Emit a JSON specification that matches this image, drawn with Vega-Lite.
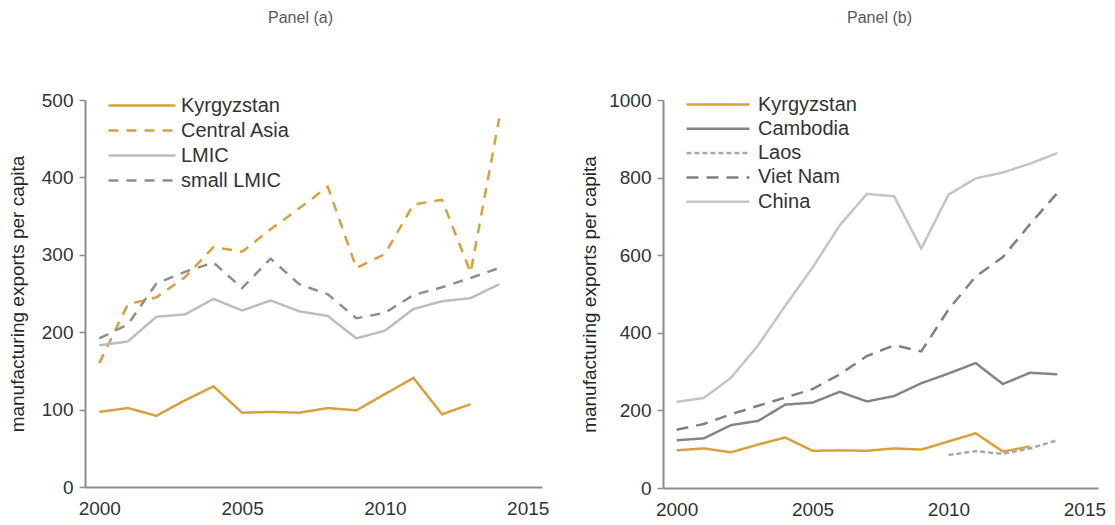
{
  "$schema": "https://vega.github.io/schema/vega-lite/v6.json",
  "background": "white",
  "padding": {"left": 8, "top": 10, "right": 5, "bottom": 5},
  "spacing": 31,
  "config": {
    "view": {"stroke": null},
    "font": "Liberation Sans",
    "axis": {
      "grid": false,
      "domainColor": "#8C8C8C",
      "domainWidth": 2,
      "tickColor": "#8C8C8C",
      "tickWidth": 1.5,
      "tickSize": 6,
      "labelColor": "#333333",
      "labelFontSize": 19,
      "labelFont": "Liberation Sans",
      "titleFont": "Liberation Sans",
      "titleFontSize": 19,
      "titleFontWeight": "normal",
      "titleColor": "#262626"
    },
    "title": {"font": "Liberation Sans", "fontSize": 16, "fontWeight": "normal", "color": "#595959", "anchor": "middle"}
  },
  "datasets": {
    "a": [
      {"year": 2000, "series": "Kyrgyzstan", "value": 97},
      {"year": 2001, "series": "Kyrgyzstan", "value": 102},
      {"year": 2002, "series": "Kyrgyzstan", "value": 92},
      {"year": 2003, "series": "Kyrgyzstan", "value": 112},
      {"year": 2004, "series": "Kyrgyzstan", "value": 130},
      {"year": 2005, "series": "Kyrgyzstan", "value": 96},
      {"year": 2006, "series": "Kyrgyzstan", "value": 97},
      {"year": 2007, "series": "Kyrgyzstan", "value": 96},
      {"year": 2008, "series": "Kyrgyzstan", "value": 102},
      {"year": 2009, "series": "Kyrgyzstan", "value": 99},
      {"year": 2010, "series": "Kyrgyzstan", "value": 120},
      {"year": 2011, "series": "Kyrgyzstan", "value": 141},
      {"year": 2012, "series": "Kyrgyzstan", "value": 94},
      {"year": 2013, "series": "Kyrgyzstan", "value": 107},
      {"year": 2000, "series": "Central Asia", "value": 160},
      {"year": 2001, "series": "Central Asia", "value": 236},
      {"year": 2002, "series": "Central Asia", "value": 245},
      {"year": 2003, "series": "Central Asia", "value": 271},
      {"year": 2004, "series": "Central Asia", "value": 310},
      {"year": 2005, "series": "Central Asia", "value": 304},
      {"year": 2006, "series": "Central Asia", "value": 333},
      {"year": 2007, "series": "Central Asia", "value": 360},
      {"year": 2008, "series": "Central Asia", "value": 388},
      {"year": 2009, "series": "Central Asia", "value": 283},
      {"year": 2010, "series": "Central Asia", "value": 301},
      {"year": 2011, "series": "Central Asia", "value": 365},
      {"year": 2012, "series": "Central Asia", "value": 371},
      {"year": 2013, "series": "Central Asia", "value": 277},
      {"year": 2014, "series": "Central Asia", "value": 476},
      {"year": 2000, "series": "LMIC", "value": 183},
      {"year": 2001, "series": "LMIC", "value": 188},
      {"year": 2002, "series": "LMIC", "value": 220},
      {"year": 2003, "series": "LMIC", "value": 223},
      {"year": 2004, "series": "LMIC", "value": 243},
      {"year": 2005, "series": "LMIC", "value": 228},
      {"year": 2006, "series": "LMIC", "value": 241},
      {"year": 2007, "series": "LMIC", "value": 227},
      {"year": 2008, "series": "LMIC", "value": 221},
      {"year": 2009, "series": "LMIC", "value": 192},
      {"year": 2010, "series": "LMIC", "value": 202},
      {"year": 2011, "series": "LMIC", "value": 230},
      {"year": 2012, "series": "LMIC", "value": 240},
      {"year": 2013, "series": "LMIC", "value": 244},
      {"year": 2014, "series": "LMIC", "value": 262},
      {"year": 2000, "series": "small LMIC", "value": 192},
      {"year": 2001, "series": "small LMIC", "value": 210},
      {"year": 2002, "series": "small LMIC", "value": 263},
      {"year": 2003, "series": "small LMIC", "value": 278},
      {"year": 2004, "series": "small LMIC", "value": 290},
      {"year": 2005, "series": "small LMIC", "value": 257},
      {"year": 2006, "series": "small LMIC", "value": 295},
      {"year": 2007, "series": "small LMIC", "value": 262},
      {"year": 2008, "series": "small LMIC", "value": 249},
      {"year": 2009, "series": "small LMIC", "value": 218},
      {"year": 2010, "series": "small LMIC", "value": 225},
      {"year": 2011, "series": "small LMIC", "value": 248},
      {"year": 2012, "series": "small LMIC", "value": 258},
      {"year": 2013, "series": "small LMIC", "value": 270},
      {"year": 2014, "series": "small LMIC", "value": 283}
    ],
    "b": [
      {"year": 2000, "series": "Kyrgyzstan", "value": 97},
      {"year": 2001, "series": "Kyrgyzstan", "value": 102},
      {"year": 2002, "series": "Kyrgyzstan", "value": 92},
      {"year": 2003, "series": "Kyrgyzstan", "value": 112},
      {"year": 2004, "series": "Kyrgyzstan", "value": 130},
      {"year": 2005, "series": "Kyrgyzstan", "value": 96},
      {"year": 2006, "series": "Kyrgyzstan", "value": 97},
      {"year": 2007, "series": "Kyrgyzstan", "value": 96},
      {"year": 2008, "series": "Kyrgyzstan", "value": 102},
      {"year": 2009, "series": "Kyrgyzstan", "value": 99},
      {"year": 2010, "series": "Kyrgyzstan", "value": 120},
      {"year": 2011, "series": "Kyrgyzstan", "value": 141},
      {"year": 2012, "series": "Kyrgyzstan", "value": 94},
      {"year": 2013, "series": "Kyrgyzstan", "value": 107},
      {"year": 2000, "series": "Cambodia", "value": 123},
      {"year": 2001, "series": "Cambodia", "value": 128},
      {"year": 2002, "series": "Cambodia", "value": 162},
      {"year": 2003, "series": "Cambodia", "value": 173},
      {"year": 2004, "series": "Cambodia", "value": 215},
      {"year": 2005, "series": "Cambodia", "value": 220},
      {"year": 2006, "series": "Cambodia", "value": 248},
      {"year": 2007, "series": "Cambodia", "value": 223},
      {"year": 2008, "series": "Cambodia", "value": 237},
      {"year": 2009, "series": "Cambodia", "value": 270},
      {"year": 2010, "series": "Cambodia", "value": 295},
      {"year": 2011, "series": "Cambodia", "value": 322},
      {"year": 2012, "series": "Cambodia", "value": 268},
      {"year": 2013, "series": "Cambodia", "value": 297},
      {"year": 2014, "series": "Cambodia", "value": 293},
      {"year": 2010, "series": "Laos", "value": 85},
      {"year": 2011, "series": "Laos", "value": 95},
      {"year": 2012, "series": "Laos", "value": 88},
      {"year": 2013, "series": "Laos", "value": 102},
      {"year": 2014, "series": "Laos", "value": 123},
      {"year": 2000, "series": "Viet Nam", "value": 150},
      {"year": 2001, "series": "Viet Nam", "value": 165},
      {"year": 2002, "series": "Viet Nam", "value": 190},
      {"year": 2003, "series": "Viet Nam", "value": 212},
      {"year": 2004, "series": "Viet Nam", "value": 233},
      {"year": 2005, "series": "Viet Nam", "value": 255},
      {"year": 2006, "series": "Viet Nam", "value": 293},
      {"year": 2007, "series": "Viet Nam", "value": 340},
      {"year": 2008, "series": "Viet Nam", "value": 368},
      {"year": 2009, "series": "Viet Nam", "value": 352},
      {"year": 2010, "series": "Viet Nam", "value": 460},
      {"year": 2011, "series": "Viet Nam", "value": 545},
      {"year": 2012, "series": "Viet Nam", "value": 595},
      {"year": 2013, "series": "Viet Nam", "value": 680},
      {"year": 2014, "series": "Viet Nam", "value": 760},
      {"year": 2000, "series": "China", "value": 222},
      {"year": 2001, "series": "China", "value": 232},
      {"year": 2002, "series": "China", "value": 284},
      {"year": 2003, "series": "China", "value": 368},
      {"year": 2004, "series": "China", "value": 470},
      {"year": 2005, "series": "China", "value": 568},
      {"year": 2006, "series": "China", "value": 677},
      {"year": 2007, "series": "China", "value": 758},
      {"year": 2008, "series": "China", "value": 752},
      {"year": 2009, "series": "China", "value": 617},
      {"year": 2010, "series": "China", "value": 756},
      {"year": 2011, "series": "China", "value": 798},
      {"year": 2012, "series": "China", "value": 813},
      {"year": 2013, "series": "China", "value": 836},
      {"year": 2014, "series": "China", "value": 863}
    ]
  },
  "hconcat": [
    {
      "width": 457,
      "height": 387,
      "title": {"text": "Panel (a)", "offset": 65, "dx": -13},
      "data": {"name": "a"},
      "mark": {"type": "line", "strokeWidth": 2.5},
      "encoding": {
        "x": {"field": "year", "type": "quantitative",
          "scale": {"domain": [1999.5, 2015.5], "nice": false, "zero": false},
          "axis": {"values": [2000, 2005, 2010, 2015], "format": "d", "title": null, "ticks": false, "labelPadding": 12}},
        "y": {"field": "value", "type": "quantitative",
          "scale": {"domain": [0, 500], "nice": false},
          "axis": {"values": [0, 100, 200, 300, 400, 500], "format": "d", "title": "manufacturing exports per capita", "labelPadding": 6, "titlePadding": 14}},
        "color": {"field": "series", "type": "nominal",
          "scale": {"domain": ["Kyrgyzstan", "Central Asia", "LMIC", "small LMIC"], "range": ["#D9A13B", "#D9A13B", "#BDBDBD", "#8E8E8E"]},
          "legend": {"orient": "none", "legendX": 69, "legendY": -6, "title": null, "symbolType": "M-5.7,0H1", "symbolSize": 400, "symbolStrokeWidth": 2.5, "labelFontSize": 20, "labelOffset": 4, "rowPadding": 3, "padding": 0, "labelColor": "#333333", "labelFont": "Liberation Sans"}},
        "strokeDash": {"field": "series", "type": "nominal",
          "scale": {"domain": ["Kyrgyzstan", "Central Asia", "LMIC", "small LMIC"], "range": [[1, 0], [10, 8], [1, 0], [10, 8]]},
          "legend": {"orient": "none", "legendX": 69, "legendY": -6, "title": null, "symbolType": "M-5.7,0H1", "symbolSize": 400, "symbolStrokeWidth": 2.5, "labelFontSize": 20, "labelOffset": 4, "rowPadding": 3, "padding": 0, "labelColor": "#333333", "labelFont": "Liberation Sans"}}
      }
    },
    {
      "width": 435,
      "height": 388,
      "title": {"text": "Panel (b)", "offset": 65, "dx": -1},
      "data": {"name": "b"},
      "mark": {"type": "line", "strokeWidth": 2.5},
      "encoding": {
        "x": {"field": "year", "type": "quantitative",
          "scale": {"domain": [1999.5, 2015.5], "nice": false, "zero": false},
          "axis": {"values": [2000, 2005, 2010, 2015], "format": "d", "title": null, "ticks": false, "labelPadding": 12}},
        "y": {"field": "value", "type": "quantitative",
          "scale": {"domain": [0, 1000], "nice": false},
          "axis": {"values": [0, 200, 400, 600, 800, 1000], "format": "d", "title": "manufacturing exports per capita", "labelPadding": 6, "titlePadding": 9}},
        "color": {"field": "series", "type": "nominal",
          "scale": {"domain": ["Kyrgyzstan", "Cambodia", "Laos", "Viet Nam", "China"], "range": ["#D9A13B", "#858585", "#A9A9A9", "#808080", "#C4C4C4"]},
          "legend": {"orient": "none", "legendX": 65, "legendY": -7, "title": null, "symbolType": "M-5.3,0H1", "symbolSize": 400, "symbolStrokeWidth": 2.5, "labelFontSize": 20, "labelOffset": 7, "rowPadding": 2.3, "padding": 0, "labelColor": "#333333", "labelFont": "Liberation Sans"}},
        "strokeDash": {"field": "series", "type": "nominal",
          "scale": {"domain": ["Kyrgyzstan", "Cambodia", "Laos", "Viet Nam", "China"], "range": [[1, 0], [1, 0], [5, 3], [12, 8], [1, 0]]},
          "legend": {"orient": "none", "legendX": 65, "legendY": -7, "title": null, "symbolType": "M-5.3,0H1", "symbolSize": 400, "symbolStrokeWidth": 2.5, "labelFontSize": 20, "labelOffset": 7, "rowPadding": 2.3, "padding": 0, "labelColor": "#333333", "labelFont": "Liberation Sans"}}
      }
    }
  ],
  "resolve": {"scale": {"color": "independent", "strokeDash": "independent", "x": "independent", "y": "independent"}}
}
